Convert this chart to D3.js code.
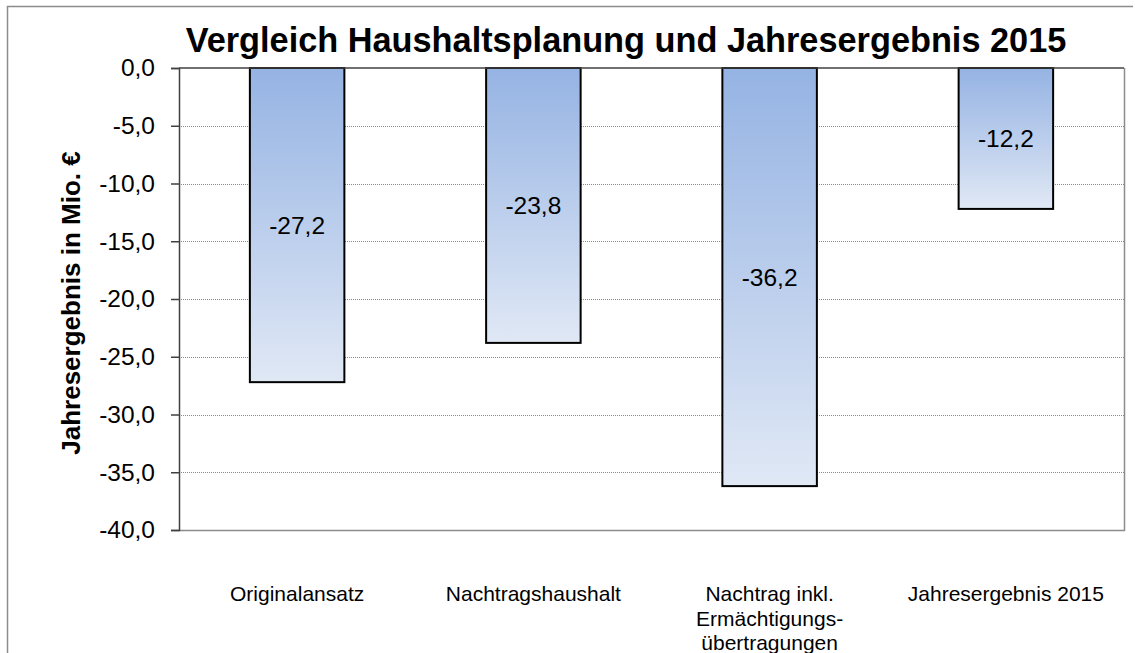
<!DOCTYPE html>
<html><head><meta charset="utf-8">
<script src="https://cdn.jsdelivr.net/npm/d3@7"></script>
<style>html,body{margin:0;padding:0;background:#fff}svg{display:block}</style>
</head><body>
<script>
const categories = [["Originalansatz"],["Nachtragshaushalt"],["Nachtrag inkl.","Ermächtigungs-","übertragungen"],["Jahresergebnis 2015"]];
const values = [-27.2, -23.8, -36.2, -12.2];
const yTicks = [0,-5,-10,-15,-20,-25,-30,-35,-40];
const title = "Vergleich Haushaltsplanung und Jahresergebnis 2015";
const yTitle = "Jahresergebnis in Mio. €";

const W = 1135, H = 653;
const m = {left:179, right:1124, top:68, bottom:530};
const fmt = v => d3.format(".1f")(v).replace(".", ",").replace("−","-");

const svg = d3.select("body").append("svg").attr("width",W).attr("height",H)
  .style("font-family","'Liberation Sans', Arial, sans-serif");

// outer border (top & left visible)
svg.append("path").attr("d",`M7.5,${H} V6.5 H1133`).attr("fill","none").attr("stroke","#8c8c8c").attr("stroke-width",1.5);

const x = d3.scaleBand().domain(d3.range(categories.length)).range([m.left,m.right]).paddingInner(0.6).paddingOuter(0.3);
const y = d3.scaleLinear().domain([0,-40]).range([m.top,m.bottom]);

const defs = svg.append("defs");
const grad = defs.append("linearGradient").attr("id","g").attr("x1",0).attr("y1",0).attr("x2",0).attr("y2",1);
grad.append("stop").attr("offset","0%").attr("stop-color","#95b3e3");
grad.append("stop").attr("offset","100%").attr("stop-color","#e0e8f5");

// gridlines
svg.append("g").selectAll("line").data(yTicks.filter(t=>t!==0 && t!==-40)).join("line")
  .attr("x1",m.left).attr("x2",m.right).attr("y1",d=>Math.round(y(d))+0.5).attr("y2",d=>Math.round(y(d))+0.5)
  .attr("stroke","#8a8a8a").attr("stroke-width",1).attr("stroke-dasharray","1,1");

// plot border right & bottom
svg.append("path").attr("d",`M${m.left},${m.bottom+0.5} H${m.right+0.5} V${m.top}`).attr("fill","none").attr("stroke","#8c8c8c").attr("stroke-width",1.5);

// bars
svg.append("g").selectAll("rect").data(values).join("rect")
  .attr("x",(d,i)=>x(i)).attr("width",x.bandwidth())
  .attr("y",d=>y(Math.max(0,d))).attr("height",d=>Math.abs(y(d)-y(0)))
  .attr("fill","url(#g)").attr("stroke","#000").attr("stroke-width",2);

// y axis
const yAxis = d3.axisLeft(y).tickValues(yTicks).tickFormat(fmt).tickSize(8).tickPadding(16);
const ga = svg.append("g").attr("transform",`translate(${m.left},0)`).call(yAxis);
ga.select(".domain").attr("stroke","#404040").attr("stroke-width",1.5);
ga.selectAll(".tick line").attr("stroke","#404040").attr("stroke-width",1.5);
ga.selectAll(".tick text").attr("font-size",24.5).attr("fill","#000").attr("font-family","'Liberation Sans', Arial, sans-serif");

// category axis line at 0
svg.append("line").attr("x1",m.left).attr("x2",m.right).attr("y1",y(0)).attr("y2",y(0)).attr("stroke","#404040").attr("stroke-width",1.5);

// data labels
svg.append("g").selectAll("text").data(values).join("text")
  .attr("x",(d,i)=>x(i)+x.bandwidth()/2).attr("y",d=>(y(0)+y(d))/2)
  .attr("dy","0.35em").attr("text-anchor","middle").attr("font-size",24.5).text(d=>fmt(d));

// category labels
const cl = svg.append("g").selectAll("text").data(categories).join("text")
  .attr("text-anchor","middle").attr("font-size",21)
  .attr("transform",(d,i)=>`translate(${x(i)+x.bandwidth()/2},601)`);
cl.selectAll("tspan").data(d=>d).join("tspan").attr("x",0).attr("y",(d,j)=>j*24.5).text(d=>d);

// title
svg.append("text").attr("x",626).attr("y",52).attr("text-anchor","middle").attr("font-size",34.3).attr("font-weight","bold").text(title);

// y title
svg.append("text").attr("transform",`translate(80,${(m.top+m.bottom)/2+4}) rotate(-90)`).attr("text-anchor","middle")
  .attr("font-size",26).attr("font-weight","bold").text(yTitle);
</script>
</body></html>
